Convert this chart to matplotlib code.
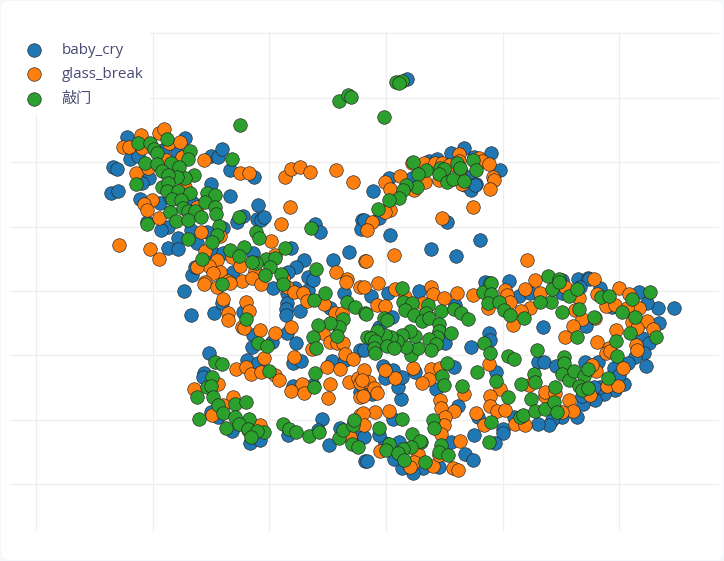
import matplotlib
matplotlib.use("Agg")
import matplotlib.pyplot as plt
from matplotlib.patches import FancyBboxPatch, Rectangle

plt.rcParams['font.family'] = ['Open Sans', 'Noto Sans CJK SC', 'DejaVu Sans']

# embedding values
labels = ["baby_cry", "glass_break", "敲门"]
colors = ["#1f77b4", "#ff7f0e", "#2ca02c"]

x_ticks = [36.5, 153, 269.5, 386, 503, 619.5]
y_ticks = [33, 97.5, 162, 227, 291, 355, 420, 484]

baby_cry = [(127,137),(113,167),(117,169),(111,193),(118,191),(130,159),(138,156),(140,199),(147,222),(160,203),(149,178),(142,183),(168,227),(161,230),(178,238),(168,248),(178,249),(197,243),(191,230),(207,232),(223,228),(185,138),(177,153),(163,150),(211,156),(218,157),(222,149),(230,170),(254,177),(211,184),(230,196),(258,205),(243,216),(237,222),(257,219),(261,220),(264,217),(315,224),(320,232),(362,220),(361,229),(291,248),(304,260),(296,267),(288,272),(333,260),(349,252),(308,277),(253,253),(192,275),(195,267),(213,253),(223,253),(233,272),(193,203),(170,197),
    (407,79),(389,178),(373,191),(412,178),(429,161),(437,159),(451,153),(464,148),(474,157),(491,153),(500,170),(468,177),(465,185),(471,190),(476,184),(475,185),(447,222),(379,218),(364,220),(390,235),(431,249),(456,256),(480,240),(485,282),(509,281),(562,280),(578,279),(588,278),(589,279),
    (184,291),(191,315),(214,313),(222,303),(243,312),(273,288),(287,293),(295,288),(308,290),(287,303),(286,309),(286,315),(300,311),(344,293),(330,308),(209,353),(253,335),(252,347),(272,342),(287,333),(296,343),(247,360),(258,363),(293,363),(301,361),(332,361),(345,360),(360,350),(204,373),(203,377),(211,412),(218,417),(232,431),(250,443),(260,440),(288,435),(293,386),(313,385),(322,419),(318,430),(340,428),(329,445),(360,392),(360,437),(365,461),(313,280),
    (674,308),(658,308),(647,303),(639,292),(659,323),(642,338),(649,343),(644,353),(635,357),(646,366),(628,363),(624,384),(615,390),(604,394),(595,400),(583,404),(577,417),(562,417),(552,420),(549,425),(538,424),(514,417),(503,429),(503,433),(495,443),(474,435),(465,454),(473,460),(451,442),(439,467),(423,468),(413,473),(402,468),(394,459),(367,461),(399,442),(385,443),(379,435),(393,419),(401,399),(398,387),(402,377),(393,370),(385,378),(383,366),(415,372),(436,389),(454,367),(458,406),(445,343),(471,347),(489,333),(490,340),(496,372),(478,417),(538,362),(544,362),(556,366),(585,362),(598,362),(543,327),(586,326),(614,368),(619,375),(600,387),(594,387),(582,396),(392,317),(379,327),(371,296),(388,293),(419,291),(455,305),(519,296),(530,293),(562,293),(580,287),(600,288),(612,307),(372,394),(364,350),(364,437)]

glass_break = [(141,135),(123,147),(129,147),(142,148),(159,133),(164,129),(169,143),(180,142),(182,157),(166,160),(204,160),(136,173),(148,168),(152,200),(144,204),(147,210),(159,218),(197,207),(185,187),(240,173),(249,173),(285,177),(291,169),(300,167),(310,172),(336,170),(353,182),(290,207),(281,224),(119,245),(150,249),(159,259),(201,232),(220,236),(205,251),(271,241),(275,255),(232,257),(217,260),(209,266),(197,267),(240,266),(255,271),(220,272),(213,273),(336,272),(347,279),(365,261),(205,282),(228,281),(242,281),(252,278),(283,278),
    (400,176),(385,182),(390,189),(414,190),(412,163),(424,163),(425,182),(435,163),(442,163),(439,180),(459,154),(459,161),(449,165),(460,170),(462,184),(479,158),(482,161),(489,164),(493,177),(494,180),(490,189),(473,207),(442,218),(390,210),(385,212),(372,222),(367,230),(394,255),(366,261),(527,260),(378,283),(535,280),(594,279),
    (204,284),(217,287),(230,283),(261,284),(223,299),(246,302),(249,311),(228,313),(228,320),(242,327),(244,328),(260,330),(275,333),(291,327),(287,287),(294,292),(303,293),(307,301),(324,304),(335,313),(342,313),(346,282),(360,287),(312,349),(323,333),(330,342),(337,343),(343,343),(345,354),(353,359),(294,357),(264,358),(236,369),(246,367),(251,374),(261,372),(275,375),(279,380),(327,367),(340,369),(349,382),(358,378),(360,383),(330,384),(328,398),(302,384),(291,391),(304,393),(194,389),(218,384),(233,397),(223,405),(212,415),(260,425),(248,430),(350,437),(360,397),(360,415),
    (364,287),(395,289),(405,297),(431,287),(433,294),(444,298),(457,293),(423,303),(473,295),(505,290),(507,295),(510,302),(488,308),(513,325),(525,289),(540,293),(530,308),(521,311),(579,298),(575,310),(582,319),(595,318),(573,326),(565,337),(597,342),(616,330),(609,348),(606,353),(610,351),(565,287),(597,294),(606,306),(615,305),(619,288),(629,294),(632,322),(639,308),(627,308),(640,323),(647,321),(637,328),(653,329),(636,345),(637,350),(623,368),(596,371),(592,365),(607,386),(618,386),(590,395),(569,400),(573,411),(562,412),(545,396),(545,392),(555,393),(529,385),(500,389),(489,364),(490,396),(490,406),(497,411),(505,410),(476,413),(484,425),(515,424),(525,425),(464,394),(440,400),(441,408),(454,411),(445,417),(444,425),(441,434),(460,441),(431,369),(440,368),(429,379),(422,383),(413,368),(395,378),(385,370),(364,370),(369,382),(374,388),(377,393),(362,380),(363,396),(375,412),(389,411),(363,413),(364,425),(380,451),(418,454),(414,462),(410,467),(433,466),(453,468),(458,470),(439,455),(377,305),(385,306)]

knock = [(240,125),(339,101),(348,95),(351,97),(138,143),(150,143),(154,149),(167,139),(157,153),(190,151),(188,159),(145,163),(157,164),(171,163),(179,167),(162,171),(194,175),(185,178),(177,177),(168,175),(136,184),(162,187),(168,183),(232,159),(167,191),(178,191),(190,193),(207,193),(215,195),(172,199),(181,200),(205,202),(215,207),(183,208),(188,211),(195,211),(170,212),(176,221),(188,220),(201,217),(216,214),(147,224),(239,217),(219,226),(217,235),(212,242),(188,239),(256,232),(259,238),(311,228),(285,248),(230,250),(244,247),(239,256),(202,259),(266,259),(275,258),(256,263),(252,262),(270,267),(265,275),(281,274),(316,269),(222,284),(283,284),
    (396,82),(402,81),(399,83),(384,117),(413,162),(426,170),(418,174),(417,187),(406,185),(403,190),(399,198),(389,200),(378,209),(440,168),(444,169),(439,174),(447,182),(453,179),(464,181),(457,163),(460,168),(473,160),(476,170),(548,276),(559,279),(490,283),
    (314,300),(325,293),(347,302),(355,307),(343,319),(339,327),(330,323),(318,325),(313,337),(316,348),(337,336),(246,319),(258,343),(267,346),(215,362),(222,364),(269,371),(315,373),(314,387),(212,377),(207,387),(211,386),(197,397),(213,397),(218,405),(223,413),(235,404),(246,402),(199,419),(235,417),(249,419),(239,424),(226,428),(248,429),(264,432),(257,431),(251,437),(283,424),(289,429),(296,432),(309,436),(319,432),(339,438),(343,430),(353,425),(354,420),(352,444),(358,447),(365,313),
    (402,288),(403,302),(412,303),(405,310),(414,315),(428,305),(426,313),(422,321),(429,318),(441,311),(454,309),(461,313),(468,319),(384,318),(387,320),(366,314),(439,324),(439,331),(451,333),(437,337),(429,339),(436,344),(431,350),(411,355),(418,348),(406,347),(415,336),(410,331),(402,335),(397,341),(391,337),(385,335),(377,331),(367,337),(371,338),(375,341),(374,348),(375,353),(387,346),(394,348),(447,363),(442,376),(444,385),(462,386),(433,420),(434,428),(379,428),(402,419),(412,434),(421,442),(420,441),(389,444),(386,450),(411,447),(403,449),(398,453),(404,460),(425,462),(441,445),(439,452),(448,455),(477,372),(484,343),(490,353),(496,381),(491,422),(489,442),(508,397),(508,356),(514,359),(537,350),(534,374),(535,382),(521,384),(531,399),(520,417),(523,415),(535,411),(545,409),(554,402),(557,412),(555,387),(564,357),(564,363),(562,374),(569,380),(574,371),(584,376),(588,369),(579,386),(582,390),(588,388),(562,312),(551,302),(540,302),(552,289),(559,282),(569,296),(577,289),(579,309),(594,317),(577,337),(601,297),(609,296),(622,312),(632,299),(650,292),(635,317),(630,333),(616,341),(617,356),(608,378),(656,337),(483,292),(491,283),(491,294),(488,303),(499,302),(504,310),(510,315),(524,318)]

fig = plt.figure(figsize=(7.24, 5.61), dpi=100, facecolor="#f4f6f9")
card = FancyBboxPatch((1, 1), 722, 559, boxstyle="round,pad=0,rounding_size=8",
                      transform=None, facecolor="white", edgecolor="none", zorder=-1)
fig.patches.append(card)

ax = fig.add_axes([11/724, 1-531/561, 708/724, 500/561], facecolor="none")
for (lab, col, pts) in zip(labels, colors, [baby_cry, glass_break, knock]):
    xs = [p[0] for p in pts]
    ys = [p[1] for p in pts]
    ax.scatter(xs, ys, s=95, c=col, edgecolors="#222222", linewidths=0.45, label=lab, zorder=3)

ax.set_xlim(11.5, 719.5)
ax.set_ylim(531, 31)
ax.set_xticks(x_ticks)
ax.set_yticks(y_ticks)
ax.tick_params(length=0, labelbottom=False, labelleft=False)
ax.grid(True, color="#eeeeee", linewidth=0.9, zorder=0)
ax.set_axisbelow(True)
for s in ax.spines.values():
    s.set_visible(False)

# white box behind the legend hides the grid there
ax.add_patch(Rectangle((0, 28), 150, 87, facecolor="white", edgecolor="none", zorder=1, clip_on=True))

leg = ax.legend(loc="upper left", bbox_to_anchor=(-5.5/708, 1.004), frameon=False, fontsize=10.9, labelcolor="#4a4a72",
                handletextpad=0.8, labelspacing=0.64, borderaxespad=0, borderpad=0.9)
leg.set_zorder(4)

fig.savefig("out.png", dpi=100, facecolor=fig.get_facecolor())
